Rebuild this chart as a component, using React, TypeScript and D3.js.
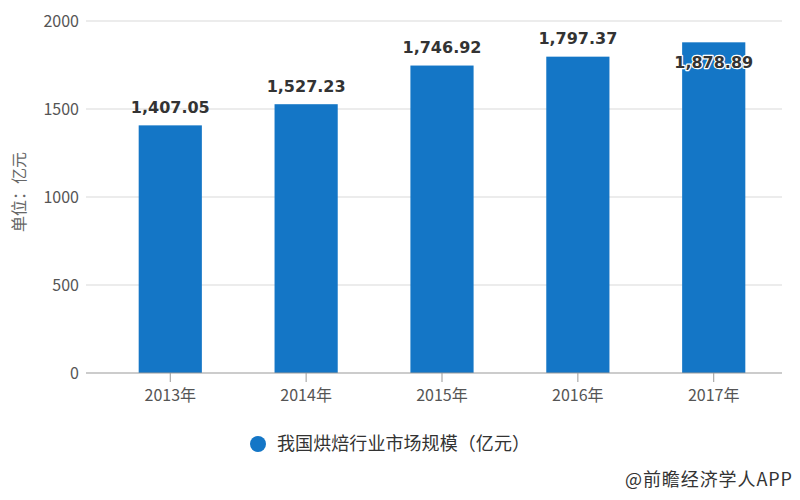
import React from "react";
import * as d3 from "d3";

const categories = ["2013年", "2014年", "2015年", "2016年", "2017年"];
const values = [1407.05, 1527.23, 1746.92, 1797.37, 1878.89];
const yTicks = [0, 500, 1000, 1500, 2000];
const seriesName = "我国烘焙行业市场规模（亿元）";
const yTitle = "单位：亿元";
const credit = "@前瞻经济学人APP";

const W = 800;
const H = 500;
const barColor = "#1476c6";

export default function App() {
  const x = d3.scaleBand<string>().domain(categories).range([102, 782]).paddingInner(0.535).paddingOuter(0.27);
  const y = d3.scaleLinear().domain([0, 2000]).range([373, 21]);
  const fmt = d3.format(",.2f");
  const cjk = "'Noto Sans CJK SC', 'Microsoft YaHei', sans-serif";
  return (
    <svg width={W} height={H} style={{ position: "absolute", left: 0, top: 0, background: "#fff" }}>
      {yTicks.map((t) => (
        <g key={t}>
          {t !== 0 && <line x1={86} x2={782} y1={y(t)} y2={y(t)} stroke="#d9d9d9" strokeWidth={1} />}
          <text x={79} y={y(t)} dy="0.35em" textAnchor="end" fontSize={16} fill="#555" fontFamily={cjk}>
            {t}
          </text>
        </g>
      ))}
      <text
        transform={`translate(19,192) rotate(-90)`}
        textAnchor="middle"
        dy="0.35em"
        fontSize={16}
        fill="#666"
        fontFamily={cjk}
      >
        {yTitle}
      </text>
      {categories.map((c, i) => {
        const bx = x(c)!;
        const bw = x.bandwidth();
        const top = y(values[i]);
        const inside = i === categories.length - 1;
        return (
          <g key={c}>
            <rect x={bx} y={top} width={bw} height={y(0) - top} fill={barColor} />
            <text
              x={bx + bw / 2}
              y={inside ? top + 20 : top - 18}
              dy="0.35em"
              textAnchor="middle"
              fontSize={16}
              fontWeight="bold"
              fontFamily="'DejaVu Sans', sans-serif"
              fill="#333"
              stroke={inside ? "#fff" : "none"}
              strokeWidth={inside ? 2.5 : 0}
              paintOrder="stroke"
              strokeLinejoin="round"
            >
              {fmt(values[i])}
            </text>
          </g>
        );
      })}
      <line x1={86} x2={782} y1={y(0)} y2={y(0)} stroke="#999" strokeWidth={1} />
      {categories.map((c) => {
        const cx = x(c)! + x.bandwidth() / 2;
        return (
          <g key={"t" + c}>
            <line x1={cx} x2={cx} y1={y(0)} y2={y(0) + 9} stroke="#999" />
            <text x={cx} y={395} dy="0.35em" textAnchor="middle" fontSize={16} fill="#555" fontFamily={cjk}>
              {c}
            </text>
          </g>
        );
      })}
      <circle cx={258} cy={444} r={8} fill={barColor} />
      <text x={277} y={444} dy="0.35em" fontSize={18} fill="#333" fontFamily={cjk} textLength={253} lengthAdjust="spacing">
        {seriesName}
      </text>
      <text x={625} y={480} dy="0.35em" fontSize={18} fill="#333" fontFamily={cjk} textLength={167} lengthAdjust="spacing">
        {credit}
      </text>
    </svg>
  );
}
